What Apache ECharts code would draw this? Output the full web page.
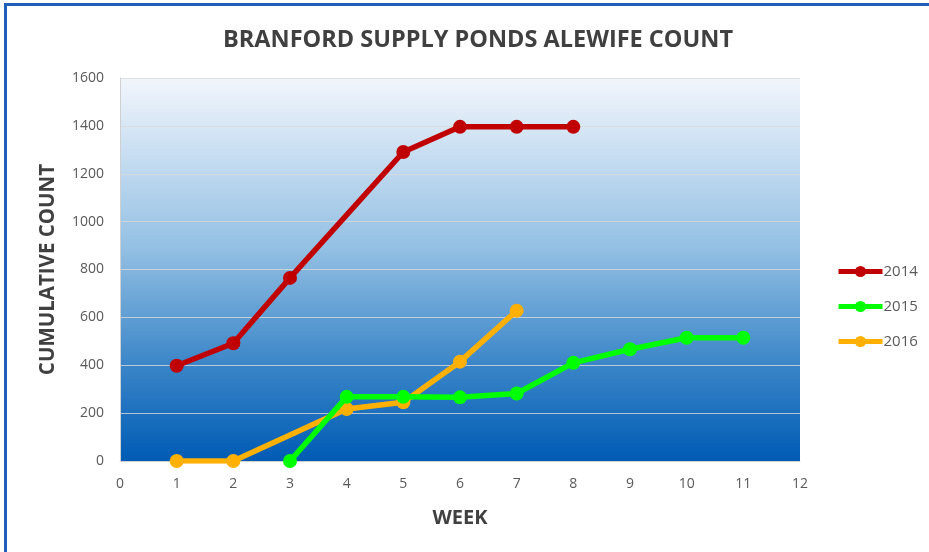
<!DOCTYPE html>
<html>
<head>
<meta charset="utf-8">
<script src="https://cdn.jsdelivr.net/npm/echarts@6/dist/echarts.min.js"></script>
<style>
html,body{margin:0;padding:0;background:#fff;}
#frame{position:absolute;left:4px;top:3px;width:940px;height:560px;border:3px solid #1f5fb8;box-sizing:border-box;}
#chart{position:absolute;left:0;top:0;width:929px;height:552px;}
</style>
</head>
<body>
<div id="frame"></div>
<div id="chart"></div>
<script>
const weeks2014 = [1, 2, 3, 5, 6, 7, 8];
const counts2014 = [398, 492, 765, 1291, 1396, 1396, 1396];
const weeks2015 = [3, 4, 5, 6, 7, 8, 9, 10, 11];
const counts2015 = [0, 268, 268, 266, 282, 410, 467, 515, 515];
const weeks2016 = [1, 2, 4, 5, 6, 7];
const counts2016 = [0, 0, 217, 245, 415, 628];
const seriesNames = ['2014', '2015', '2016'];
const seriesColors = ['#c00000', '#00ff00', '#ffb000'];

const pairs = (xs, ys) => xs.map((x, i) => [x, ys[i]]);
const allData = [pairs(weeks2014, counts2014), pairs(weeks2015, counts2015), pairs(weeks2016, counts2016)];

const chart = echarts.init(document.getElementById('chart'), null, {renderer: 'canvas'});
const labelColor = '#595959';
chart.setOption({
  animation: false,
  backgroundColor: 'transparent',
  title: {
    text: 'BRANFORD SUPPLY PONDS ALEWIFE COUNT',
    left: 473, top: 23, textAlign: 'center',
    textStyle: {fontFamily: 'Open Sans', fontWeight: 'bold', fontSize: 23.5, color: '#404040'}
  },
  legend: {
    orient: 'vertical', left: 831, top: 259,
    itemWidth: 44, itemHeight: 14, itemGap: 20,
    lineStyle: {width: 5},
    textStyle: {fontFamily: 'Open Sans', fontSize: 15, color: labelColor, padding: [0,0,0,-4]},
    data: seriesNames
  },
  grid: {
    left: 120, right: 129, top: 78, bottom: 91,
    show: true, borderWidth: 0,
    backgroundColor: new echarts.graphic.LinearGradient(0, 0, 0, 1, [
      {offset: 0, color: '#f2f6fc'},
      {offset: 0.45, color: '#92bfe3'},
      {offset: 0.75, color: '#3a85c8'},
      {offset: 1, color: '#005bb4'}
    ])
  },
  xAxis: {
    type: 'value', min: 0, max: 12, interval: 1,
    name: 'WEEK', nameLocation: 'middle', nameGap: 47,
    nameTextStyle: {fontFamily: 'Open Sans', fontWeight: 'bold', fontSize: 20, color: '#404040'},
    axisLine: {show: true, lineStyle: {color: '#d0d0d0', width: 1}},
    axisTick: {show: false},
    splitLine: {show: false},
    axisLabel: {fontFamily: 'Open Sans', fontSize: 14, color: labelColor, margin: 16}
  },
  yAxis: {
    type: 'value', min: 0, max: 1600, interval: 200,
    name: 'CUMULATIVE COUNT', nameLocation: 'middle', nameGap: 61,
    nameTextStyle: {fontFamily: 'Open Sans', fontWeight: 'bold', fontSize: 20.5, color: '#404040'},
    axisLine: {show: true, lineStyle: {color: '#d0d0d0', width: 1}},
    axisTick: {show: false},
    splitLine: {show: true, lineStyle: {color: 'rgba(217,217,217,0.8)', width: 1}},
    axisLabel: {fontFamily: 'Open Sans', fontSize: 14, color: labelColor, margin: 16, formatter: v => String(v)}
  },
  series: seriesNames.map((name, i) => ({
    name: name, type: 'line', data: allData[i],
    symbol: 'circle', symbolSize: 14,
    lineStyle: {color: seriesColors[i], width: 5.5},
    itemStyle: {color: seriesColors[i]},
    z: 3 - i
  }))
});
</script>
</body>
</html>
